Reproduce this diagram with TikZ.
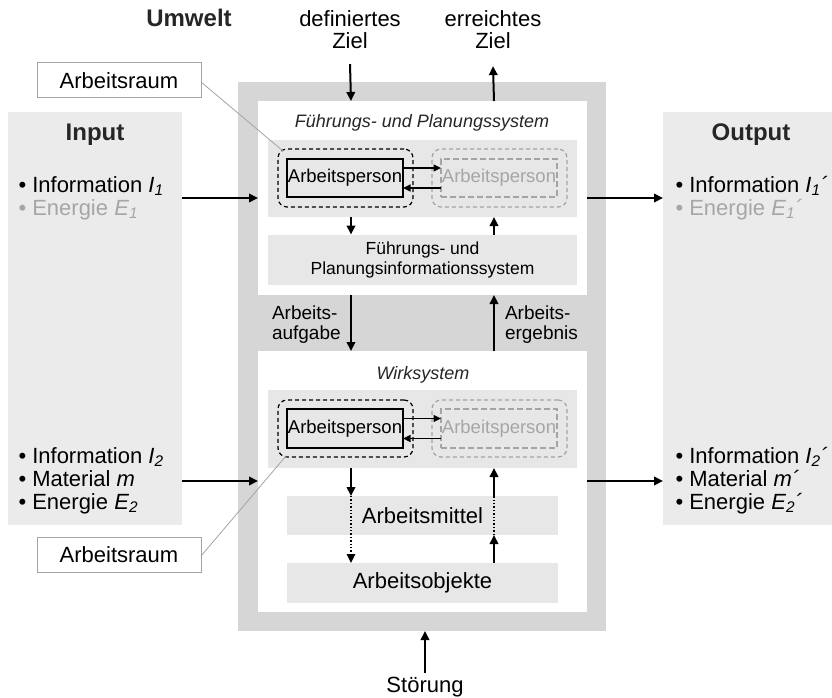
\documentclass[tikz,border=0pt]{standalone}
\usepackage{fontspec}
\setmainfont{Liberation Sans}
\usetikzlibrary{arrows.meta}
\definecolor{framegray}{HTML}{D6D6D6}
\definecolor{boxgray}{HTML}{EBEBEB}
\definecolor{bandgray}{HTML}{E7E7E7}
\definecolor{softgray}{HTML}{A6A6A6}
\definecolor{linegray}{HTML}{A4A4A4}
\newcommand{\fsz}[2]{\fontsize{#1}{#2}\selectfont}
\newcommand{\vsub}[2]{\textit{#1}\textsubscript{\textit{#2}}}
\newcommand{\acu}{\textit{´}}
\begin{document}
\begin{tikzpicture}[x=1pt,y=-1pt,
  every node/.style={inner sep=0pt, outer sep=0pt},
  area/.style={draw=none},
  arr/.style={line width=2pt, -{Triangle[length=9pt,width=8.5pt]}},
  sarr/.style={line width=1.5pt, -{Triangle[length=7.5pt,width=7pt]}},
  dotln/.style={line width=1.4pt, dotted},
  dotarr/.style={line width=1.4pt, dotted, -{Triangle[length=9pt,width=8.5pt]}},
  dbox/.style={draw, line width=1.2pt, dash pattern=on 4pt off 3pt, rounded corners=9pt, minimum width=135pt, minimum height=58pt},
  pbox/.style={draw, line width=1.2pt, minimum width=116pt, minimum height=38pt, font=\fsz{18.5}{20}},
  gbox/.style={draw=linegray, line width=1.2pt, dash pattern=on 6pt off 3pt, minimum width=116pt, minimum height=38pt, font=\fsz{18.5}{20}, text=softgray},
  callout/.style={draw=linegray, line width=1pt, fill=white, minimum width=164pt, minimum height=35pt, font=\fsz{22}{24}},
  cline/.style={draw=linegray, line width=0.8pt},
  lbl/.style={font=\fsz{22}{23}},
  lst/.style={anchor=west, align=left, font=\fsz{22}{23}}
]
\useasboundingbox (0,0) rectangle (832,698);

% helper coordinates
\coordinate (xl) at (351,0);
\coordinate (xr) at (494,0);
\coordinate (y1) at (0,198);
\coordinate (y2) at (0,481);

% Input / Output panels
\node[area, fill=boxgray, minimum width=174pt, minimum height=413pt] (input) at (95,318.5) {};
\node[area, fill=boxgray, minimum width=169pt, minimum height=413pt] (output) at (747.5,318.5) {};
\node[font=\fsz{24}{26}\bfseries, text=black!85] (intitle) at (95,135) {Input};
\node[font=\fsz{24}{26}\bfseries, text=black!85] (outtitle) at (751,135) {Output};

\node[lst] (in1) at (18.5,198) {• Information \vsub{I}{1}\\\textcolor{softgray}{• Energie \vsub{E}{1}}};
\node[lst] (in2) at (18.5,480.5) {• Information \vsub{I}{2}\\• Material \textit{m}\\• Energie \vsub{E}{2}};
\node[lst] (out1) at (675.5,198) {• Information \vsub{I}{1}\acu\\\textcolor{softgray}{• Energie \vsub{E}{1}\acu}};
\node[lst] (out2) at (675.5,480.5) {• Information \vsub{I}{2}\acu\\• Material \textit{m}\acu\\• Energie \vsub{E}{2}\acu};

% System frame
\node[area, fill=framegray, minimum width=368pt, minimum height=549pt] (frame) at (422,356.5) {};
\node[area, fill=white, minimum width=329pt, minimum height=194pt] (topw) at (422.5,198) {};
\node[area, fill=white, minimum width=329pt, minimum height=261pt] (botw) at (422.5,481.5) {};

\node[font=\fsz{18}{20}\itshape, text=black!85] (t1) at (422,122.5) {Führungs- und Planungssystem};
\node[font=\fsz{18}{20}\itshape, text=black!85] (t2) at (423,374.5) {Wirksystem};

\node[area, fill=bandgray, minimum width=309pt, minimum height=77pt] (topband) at (422.5,178.5) {};
\node[area, fill=bandgray, minimum width=309pt, minimum height=50pt, align=center, font=\fsz{17.5}{20}] (info) at (422.5,259.5) {Führungs- und\\Planungsinformationssystem};
\node[area, fill=bandgray, minimum width=309pt, minimum height=78pt] (botband) at (422.5,429) {};
\node[area, fill=bandgray, minimum width=271pt, minimum height=39pt, font=\fsz{22}{24}] (mittel) at (422.5,515.5) {Arbeitsmittel};
\node[area, fill=bandgray, minimum width=271pt, minimum height=40pt, font=\fsz{22}{24}] (objekte) at (422.5,583) {Arbeitsobjekte};

% Arbeitspersonen (top)
\node[dbox] (dl1) at (345.5,178) {};
\node[pbox] (p1) at (345,178) {Arbeitsperson};
\node[dbox, draw=linegray] (dr1) at (499.5,178) {};
\node[gbox] (q1) at (499,178) {Arbeitsperson};
\draw[sarr] ([yshift=10pt]p1.east) -- ([yshift=10pt]q1.west);
\draw[sarr] ([yshift=-10pt]q1.west) -- ([yshift=-10pt]p1.east);

% Arbeitspersonen (bottom)
\node[dbox, minimum height=57pt] (dl2) at (345.5,428.5) {};
\node[pbox, minimum height=39pt] (p2) at (345,428.5) {Arbeitsperson};
\node[dbox, draw=linegray, minimum height=57pt] (dr2) at (499.5,428.5) {};
\node[gbox, minimum height=39pt] (q2) at (499,428.5) {Arbeitsperson};
\draw[sarr] ([yshift=10pt]p2.east) -- ([yshift=10pt]q2.west);
\draw[sarr] ([yshift=-10pt]q2.west) -- ([yshift=-10pt]p2.east);

% vertical arrows inside
\draw[arr] (topband.south -| xl) -- (info.north -| xl);
\draw[arr] (info.north -| xr) -- (topband.south -| xr);
\draw[arr] (topw.south -| xl) -- (botw.north -| xl);
\draw[arr] (botw.north -| xr) -- (topw.south -| xr);
\draw[arr] (botband.south -| xl) -- (mittel.north -| xl);
\draw[dotarr] (mittel.north -| xl) -- (objekte.north -| xl);
\draw[arr] (objekte.north -| xr) -- (mittel.south -| xr);
\draw[dotln] (mittel.south -| xr) -- (mittel.north -| xr);
\draw[arr] (mittel.north -| xr) -- (botband.south -| xr);

\node[anchor=west, align=left, font=\fsz{19}{20}] (aufg) at (272,325) {Arbeits-\\aufgabe};
\node[anchor=west, align=left, font=\fsz{19}{20}] (erg) at (505,325) {Arbeits-\\ergebnis};

% Umwelt and goals
\node[font=\fsz{24}{26}\bfseries, text=black!85] (umwelt) at (189,18.3) {Umwelt};
\node[align=center, font=\fsz{22}{22.7}] (dz) at (350,29.7) {definiertes\\Ziel};
\node[align=center, font=\fsz{22}{22.7}] (ez) at (493,29.7) {erreichtes\\Ziel};
\draw[arr] ([yshift=-15pt]dz.south) -- (topw.north -| xl);
\draw[arr] (topw.north -| xr) -- ([yshift=-17pt]ez.south);

% Input / output arrows
\draw[arr] (input.east |- y1) -- (topw.west |- y1);
\draw[arr] (input.east |- y2) -- (botw.west |- y2);
\draw[arr] (topw.east |- y1) -- (output.west |- y1);
\draw[arr] (botw.east |- y2) -- (output.west |- y2);

% Stoerung
\node[lbl] (stor) at (425,687) {Störung};
\draw[arr] ([yshift=4pt]stor.north) -- (frame.south -| stor);

% Callouts
\node[callout] (cr1) at (119,80.5) {Arbeitsraum};
\node[callout] (cr2) at (119,554.5) {Arbeitsraum};
\draw[cline] ([yshift=-1.5pt]cr1.east) -- ([xshift=5pt,yshift=-2pt]dl1.north west);
\draw[cline] ([yshift=-1.5pt]cr2.east) -- ([xshift=8pt,yshift=1pt]dl2.south west);
\end{tikzpicture}
\end{document}
